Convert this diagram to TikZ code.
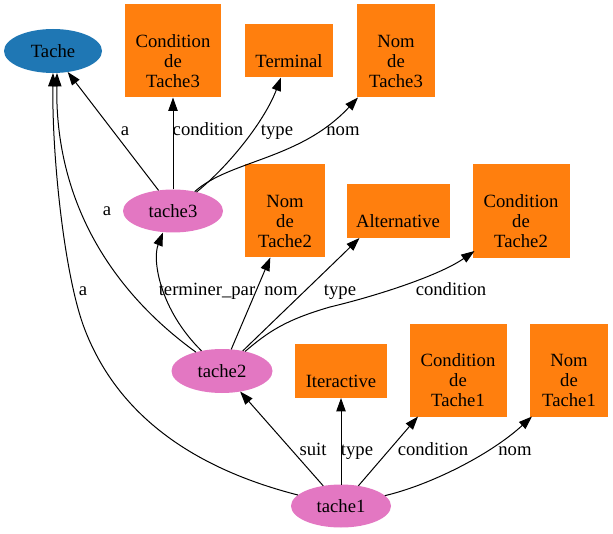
\documentclass[tikz,border=0pt]{standalone}
\usepackage{fontspec}
\setmainfont{Liberation Serif}
\usetikzlibrary{shapes.geometric,arrows.meta}
\definecolor{tblue}{HTML}{1F77B4}
\definecolor{tpink}{HTML}{E377C2}
\definecolor{torange}{HTML}{FF7F0E}
\begin{document}
\begin{tikzpicture}[x=0.75pt,y=-0.75pt,
  every node/.style={font=\rmfamily\fontsize{14}{15}\selectfont, inner sep=0pt, outer sep=0pt},
  classnode/.style={ellipse, fill=tblue},
  instnode/.style={ellipse, fill=tpink},
  valbox/.style={rectangle, fill=torange},
  boxtxt/.style={align=center, yshift=-7.5pt},
  lbl/.style={text height=10pt, text depth=3pt},
  edge/.style={line width=0.75pt, -{Triangle[length=10pt,width=7pt]}}]
\useasboundingbox (0,0) rectangle (613,534);
% nodes
\node[classnode, minimum width=73.5pt, minimum height=33pt] (Tache) at (53,51) {Tache};
\node[valbox, minimum width=72pt, minimum height=69.75pt, label={[boxtxt]center:Condition\\de\\Tache3}] (C3) at (173,51) {};
\node[valbox, minimum width=66pt, minimum height=39.75pt, label={[boxtxt]center:Terminal}] (Term) at (289,51) {};
\node[valbox, minimum width=58.5pt, minimum height=69.75pt, label={[boxtxt]center:Nom\\de\\Tache3}] (N3) at (396,51) {};
\node[instnode, minimum width=75pt, minimum height=32.25pt] (t3) at (173,211) {tache3};
\node[valbox, minimum width=60pt, minimum height=69.75pt, label={[boxtxt]center:Nom\\de\\Tache2}] (N2) at (285,211) {};
\node[valbox, minimum width=77.25pt, minimum height=40.5pt, label={[boxtxt]center:Alternative}] (Alt) at (398,211) {};
\node[valbox, minimum width=72.75pt, minimum height=70.5pt, label={[boxtxt]center:Condition\\de\\Tache2}] (C2) at (521,211) {};
\node[instnode, minimum width=75.75pt, minimum height=33pt] (t2) at (222,371) {tache2};
\node[valbox, minimum width=69pt, minimum height=40.5pt, label={[boxtxt]center:Iteractive}] (Iter) at (341,371) {};
\node[valbox, minimum width=72.75pt, minimum height=69.75pt, label={[boxtxt]center:Condition\\de\\Tache1}] (C1) at (458,370) {};
\node[valbox, minimum width=58.5pt, minimum height=69.75pt, label={[boxtxt]center:Nom\\de\\Tache1}] (N1) at (569,370) {};
\node[instnode, minimum width=75pt, minimum height=32.25pt] (t1) at (341,506) {tache1};
% tache3 edges
\draw[edge] (t3.125.5) -- (Tache.305);
\draw[edge] (t3) -- (C3);
\draw[edge] (t3) .. controls (230,165) and (265,120) .. ([xshift=-6pt]Term.south);
\draw[edge] (t3) .. controls (230,160) and (300,160) .. ([xshift=0.75pt]N3.south west);
% tache2 edges
\draw[edge] (t2) .. controls (110,290) and (55,200) .. ([xshift=3pt]Tache.south);
\draw[edge] (t2) .. controls (160,310) and (152,260) .. ([xshift=-7.5pt]t3.south);
\draw[edge] (t2) -- ([xshift=-11pt]N2.south);
\draw[edge] (t2) .. controls (285,310) and (335,262) .. ([xshift=9.75pt]Alt.south west);
\draw[edge] (t2) .. controls (268,332) and (285,320) .. (330,307)
  .. controls (380,295) and (440,275) .. ([xshift=1.5pt,yshift=5.25pt]C2.south west);
% tache1 edges
\draw[edge] (t1) .. controls (200,470) and (120,420) .. (85,330)
  .. controls (65,279) and (52,160) .. (Tache.south);
\draw[edge] (t1) -- (t2);
\draw[edge] (t1) -- (Iter);
\draw[edge] (t1) -- (C1);
\draw[edge] (t1) .. controls (430,485) and (490,455) .. ([xshift=1.5pt]N1.south west);
% labels
\node[lbl] (l1) at (125,131) {a};
\node[lbl] (l2) at (208,131) {condition};
\node[lbl] (l3) at (277,131) {type};
\node[lbl] (l4) at (343,131) {nom};
\node[lbl] (l5) at (107,211) {a};
\node[lbl] (l6) at (207,291) {terminer\_par};
\node[lbl] (l7) at (281,291) {nom};
\node[lbl] (l8) at (340,291) {type};
\node[lbl] (l9) at (451,291) {condition};
\node[lbl] (l10) at (83,291) {a};
\node[lbl] (l11) at (313,451) {suit};
\node[lbl] (l12) at (357,451) {type};
\node[lbl] (l13) at (433,451) {condition};
\node[lbl] (l14) at (515,451) {nom};
\end{tikzpicture}
\end{document}
